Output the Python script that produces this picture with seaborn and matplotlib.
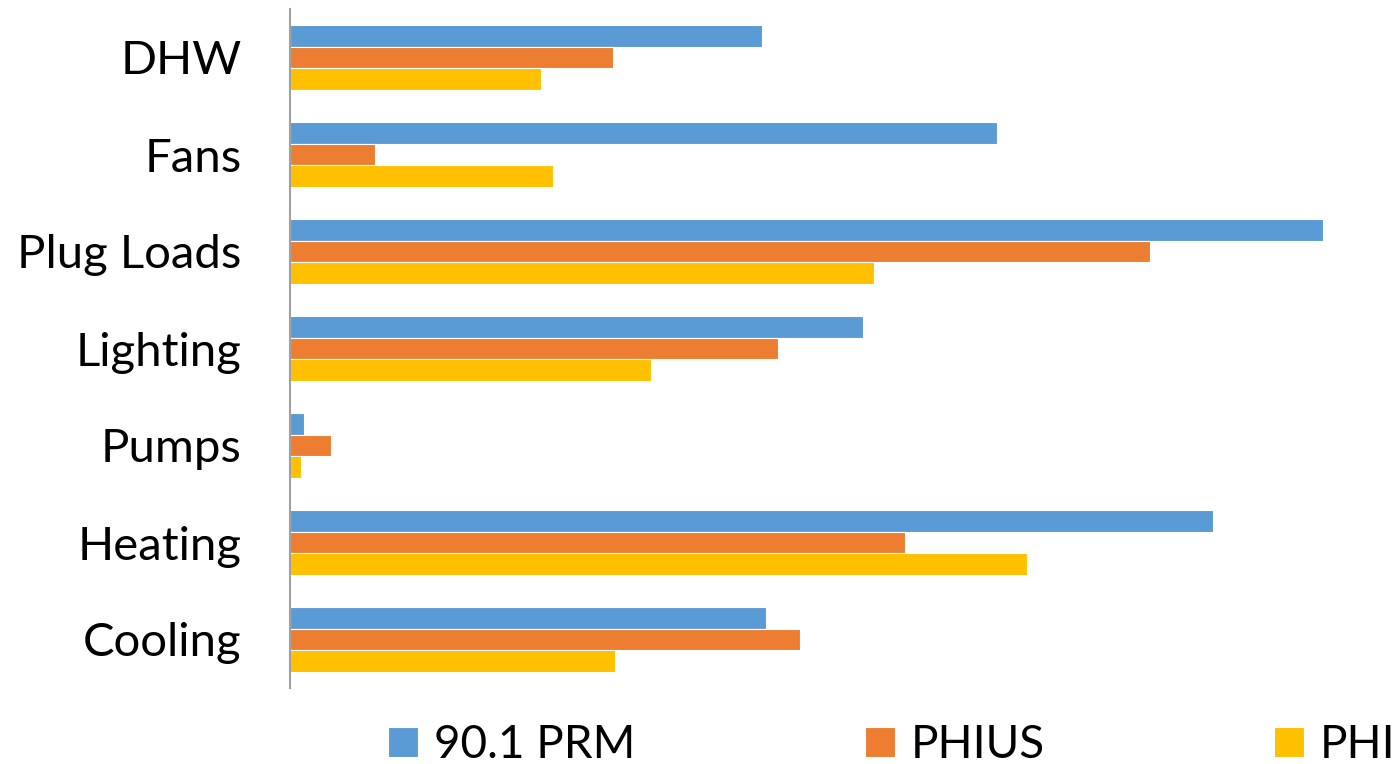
import matplotlib
matplotlib.use("Agg")
import matplotlib.pyplot as plt
import pandas as pd
import seaborn as sns

# Categorias e valores
categorias = ["DHW", "Fans", "Plug Loads", "Lighting", "Pumps", "Heating", "Cooling"]
prm_901 = [472, 707, 1033, 573, 14, 923, 476]
phius = [323, 85, 860, 488, 41, 615, 510]
phi = [251, 263, 584, 361, 11, 737, 325]
series = ["90.1 PRM", "PHIUS", "PHI"]
cores = {"90.1 PRM": "#5B9BD5", "PHIUS": "#ED7D31", "PHI": "#FFC000"}

dados = pd.DataFrame({
    "categoria": categorias * 3,
    "valor": prm_901 + phius + phi,
    "serie": [series[0]] * 7 + [series[1]] * 7 + [series[2]] * 7,
})

sns.set_style("white")
plt.rcParams["font.family"] = ["Lato", "DejaVu Sans"]
plt.rcParams["text.color"] = "black"
plt.rcParams["ytick.color"] = "black"
plt.rcParams["ytick.labelcolor"] = "black"

fig = plt.figure(figsize=(13.98, 7.64), dpi=100)
ax = fig.add_axes([290 / 1398, 76 / 764, 1050 / 1398, 679 / 764])

sns.barplot(data=dados, y="categoria", x="valor", hue="serie", order=categorias,
            hue_order=series, palette=cores, orient="h", width=0.67,
            edgecolor="white", linewidth=0.8, saturation=1, ax=ax)

ax.set_xlim(0, 1050)
ax.set_xlabel("")
ax.set_ylabel("")
ax.set_xticks([])
ax.tick_params(axis="y", labelsize=34, length=0, pad=35, labelcolor="black")
for s in ["top", "right", "bottom"]:
    ax.spines[s].set_visible(False)
ax.spines["left"].set_color("#A0A0A0")
ax.spines["left"].set_linewidth(1.5)

ax.get_legend().remove()
handles, labels = ax.get_legend_handles_labels()
fig.legend(handles, labels, loc="center", bbox_to_anchor=(0.638, 0.025), ncol=3,
           frameon=False, fontsize=33, handlelength=0.65, handleheight=0.65,
           handletextpad=0.35, columnspacing=5.0, labelcolor="black")

fig.savefig("out.png", dpi=100)
